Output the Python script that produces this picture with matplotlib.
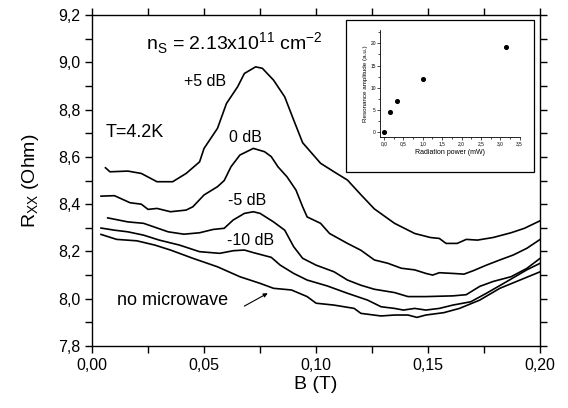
import numpy as np
import matplotlib
matplotlib.use("Agg")
import matplotlib.pyplot as plt
from matplotlib.ticker import MultipleLocator, FuncFormatter
from matplotlib.patches import Rectangle

plt.rcParams['font.family'] = ['Liberation Sans', 'DejaVu Sans']

# magnetoresistance traces, B (T) and Rxx (Ohm)
b_p5 = [0.006, 0.008, 0.016, 0.022, 0.029, 0.036, 0.042, 0.048, 0.050, 0.056, 0.060, 0.065,
        0.068, 0.073, 0.076, 0.081, 0.086, 0.090, 0.094, 0.102, 0.108, 0.114, 0.120, 0.126,
        0.135, 0.144, 0.151, 0.155, 0.158, 0.163, 0.167, 0.172, 0.179, 0.187, 0.193, 0.200]
r_p5 = [8.554, 8.537, 8.540, 8.530, 8.495, 8.495, 8.530, 8.579, 8.636, 8.721, 8.826, 8.897,
        8.953, 8.981, 8.975, 8.925, 8.854, 8.756, 8.660, 8.573, 8.537, 8.502, 8.440, 8.380,
        8.319, 8.276, 8.259, 8.255, 8.234, 8.234, 8.251, 8.248, 8.259, 8.279, 8.298, 8.330]

b_0 = [0.004, 0.010, 0.017, 0.022, 0.025, 0.029, 0.035, 0.042, 0.045, 0.050, 0.056, 0.059,
       0.062, 0.066, 0.072, 0.077, 0.080, 0.083, 0.087, 0.091, 0.094, 0.096, 0.102, 0.106,
       0.114, 0.120, 0.126, 0.132, 0.138, 0.144, 0.149, 0.152, 0.155, 0.161, 0.166, 0.170,
       0.176, 0.182, 0.188, 0.194, 0.200]
r_0 = [8.434, 8.436, 8.406, 8.400, 8.378, 8.382, 8.368, 8.375, 8.389, 8.439, 8.474, 8.500,
       8.558, 8.608, 8.636, 8.622, 8.601, 8.558, 8.516, 8.460, 8.389, 8.346, 8.319, 8.276,
       8.234, 8.205, 8.164, 8.150, 8.129, 8.122, 8.107, 8.100, 8.110, 8.107, 8.104, 8.118,
       8.142, 8.164, 8.185, 8.213, 8.251]

b_m5 = [0.007, 0.016, 0.023, 0.034, 0.041, 0.048, 0.054, 0.059, 0.063, 0.068, 0.072, 0.075,
        0.081, 0.086, 0.090, 0.094, 0.100, 0.108, 0.114, 0.120, 0.126, 0.135, 0.141, 0.149,
        0.161, 0.167, 0.173, 0.179, 0.187, 0.194, 0.200]
r_m5 = [8.342, 8.325, 8.319, 8.283, 8.273, 8.279, 8.293, 8.298, 8.333, 8.361, 8.368, 8.361,
        8.325, 8.290, 8.220, 8.171, 8.142, 8.114, 8.079, 8.057, 8.040, 8.026, 8.009, 8.009,
        8.012, 8.017, 8.052, 8.073, 8.093, 8.128, 8.171]

b_m10 = [0.004, 0.010, 0.016, 0.023, 0.030, 0.039, 0.048, 0.057, 0.063, 0.068, 0.072, 0.080,
         0.084, 0.090, 0.096, 0.105, 0.114, 0.123, 0.129, 0.135, 0.139, 0.144, 0.149, 0.155,
         0.161, 0.169, 0.176, 0.185, 0.194, 0.200]
r_m10 = [8.299, 8.290, 8.283, 8.269, 8.248, 8.227, 8.199, 8.192, 8.203, 8.206, 8.195, 8.175,
         8.142, 8.107, 8.079, 8.054, 8.023, 7.994, 7.966, 7.959, 7.952, 7.959, 7.952, 7.959,
         7.973, 7.987, 8.023, 8.072, 8.122, 8.150]

b_off = [0.004, 0.011, 0.020, 0.028, 0.035, 0.045, 0.056, 0.066, 0.075, 0.081, 0.089, 0.096,
         0.100, 0.108, 0.117, 0.120, 0.129, 0.135, 0.141, 0.145, 0.149, 0.157, 0.164, 0.173,
         0.182, 0.191, 0.200]
r_off = [8.272, 8.251, 8.245, 8.227, 8.206, 8.171, 8.135, 8.093, 8.065, 8.044, 8.037, 8.009,
         7.981, 7.973, 7.959, 7.938, 7.927, 7.931, 7.931, 7.921, 7.931, 7.941, 7.959, 7.994,
         8.044, 8.079, 8.114]

# inset: resonance amplitude vs radiation power
power_mw = [0.0, 0.16, 0.35, 1.0, 3.15]
amplitude = [0.0, 4.6, 7.1, 12.0, 19.1]

comma = FuncFormatter(lambda v, p: ("%.2f" % v).replace('.', ','))
comma1 = FuncFormatter(lambda v, p: ("%.1f" % v).replace('.', ','))

fig = plt.figure(figsize=(5.68, 4.08), dpi=100)
ax = fig.add_axes([0.162, 0.152, 0.789, 0.811])

for b, r in [(b_p5, r_p5), (b_0, r_0), (b_m5, r_m5), (b_m10, r_m10), (b_off, r_off)]:
    ax.plot(b, r, color='black', lw=1.2)

ax.set_xlim(0, 0.2)
ax.set_ylim(7.8, 9.2)
ax.xaxis.set_major_locator(MultipleLocator(0.05))
ax.xaxis.set_minor_locator(MultipleLocator(0.025))
ax.yaxis.set_major_locator(MultipleLocator(0.2))
ax.yaxis.set_minor_locator(MultipleLocator(0.1))
ax.xaxis.set_major_formatter(comma)
ax.yaxis.set_major_formatter(comma1)
ax.tick_params(which='both', direction='out', top=True, right=True, labelsize=11.5, width=1)
ax.tick_params(which='major', length=5)
ax.tick_params(which='minor', length=5)
for s in ax.spines.values():
    s.set_linewidth(1.0)

ax.set_xlabel('B (T)', fontsize=14, labelpad=2)
ax.set_ylabel(r'R$_{\mathregular{XX}}$ (Ohm)', fontsize=14, labelpad=12)

ax.text(0.024, 9.08, r'n$_{\mathregular{S}}$ = 2.13x10$^{\mathregular{ 11}}$ cm$^{\mathregular{-2}}$',
        fontsize=14, va='center', ha='left')
ax.text(0.0506, 8.917, '+5 dB', fontsize=11.5, ha='center', va='center')
ax.text(0.006, 8.705, 'T=4.2K', fontsize=13, ha='left', va='center')
ax.text(0.0684, 8.684, '0 dB', fontsize=11.5, ha='center', va='center')
ax.text(0.0694, 8.414, '-5 dB', fontsize=11.5, ha='center', va='center')
ax.text(0.0707, 8.245, '-10 dB', fontsize=11.5, ha='center', va='center')
ax.text(0.0358, 7.994, 'no microwave', fontsize=13, ha='center', va='center')
ax.annotate('', xy=(0.0795, 8.029), xytext=(0.0669, 7.963),
            arrowprops=dict(arrowstyle='-|>', color='black', lw=0.8, mutation_scale=6))

# frame around inset
fig.patches.append(Rectangle((0.609, 0.578), 0.331, 0.3725, transform=fig.transFigure,
                             fill=False, edgecolor='black', lw=0.9, zorder=5))

ins = fig.add_axes([0.669, 0.665, 0.246, 0.2615])
ins.scatter(power_mw, amplitude, s=7, color='black', zorder=3)
ins.set_xlim(-0.1, 3.5)
ins.set_ylim(-1, 23)
ins.xaxis.set_major_locator(MultipleLocator(0.5))
ins.xaxis.set_minor_locator(MultipleLocator(0.25))
ins.yaxis.set_major_locator(MultipleLocator(5))
ins.yaxis.set_minor_locator(MultipleLocator(2.5))
ins.xaxis.set_major_formatter(comma1)
ins.spines['top'].set_visible(False)
ins.spines['right'].set_visible(False)
for s in ins.spines.values():
    s.set_linewidth(0.6)
ins.tick_params(which='both', direction='out', labelsize=3.5, width=0.5, pad=1)
ins.tick_params(which='major', length=2)
ins.tick_params(which='minor', length=1.2)
ins.set_xlabel('Radiation power (mW)', fontsize=5, labelpad=2)
ins.set_ylabel('Resonance amplitude (a.u.)', fontsize=4.5, labelpad=2)

fig.savefig('out.png', dpi=100)
